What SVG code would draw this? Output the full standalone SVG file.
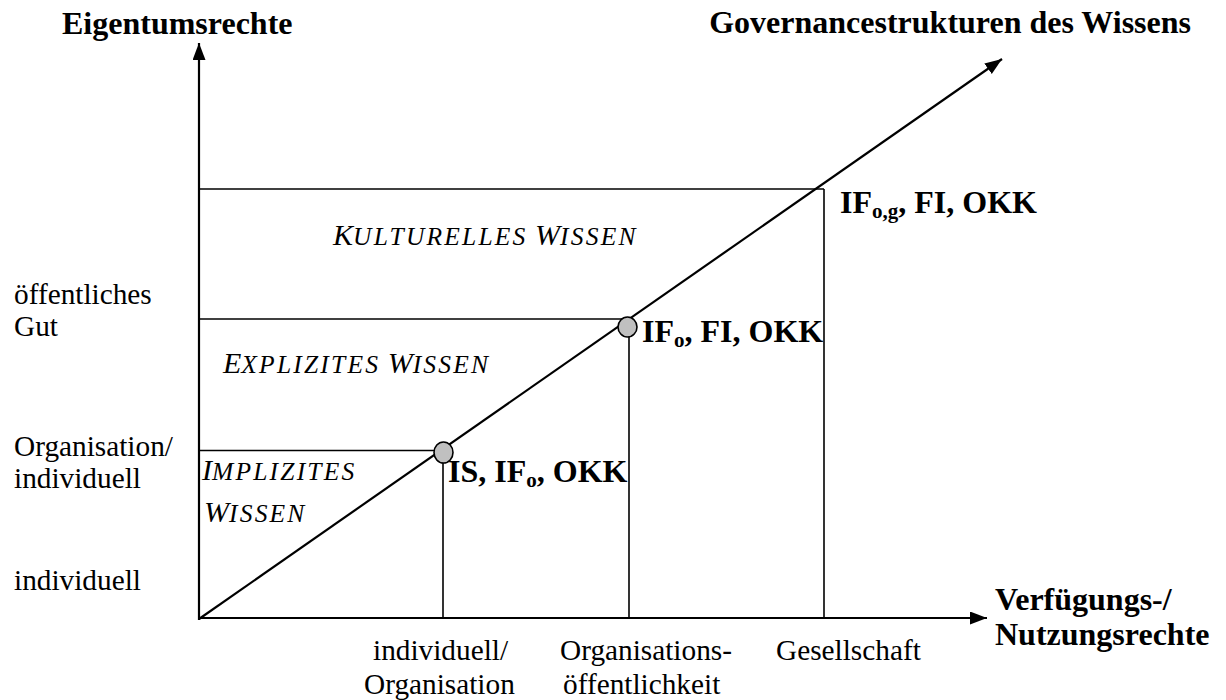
<svg xmlns="http://www.w3.org/2000/svg" width="1226" height="700" viewBox="0 0 1226 700">
<style>
.reg{font-family:"Liberation Serif","Times New Roman",serif;font-size:29.3px;fill:#000}
.bold{font-family:"Liberation Serif","Times New Roman",serif;font-size:32px;font-weight:bold;fill:#000}
.ital{font-family:"Liberation Serif","Times New Roman",serif;font-size:30px;font-style:italic;fill:#000}
.sc{font-size:25.5px;letter-spacing:2.2px}
.sub{font-size:21px}
.axis{stroke:#000;stroke-width:2.2;fill:none}
.grid{stroke:#000;stroke-width:1.6;fill:none}
.dot{fill:#c0c0c0;stroke:#000;stroke-width:1.6}
</style>
<defs>
<marker id="arr" markerUnits="userSpaceOnUse" markerWidth="18" markerHeight="14" refX="17" refY="6.5" orient="auto">
<path d="M0,0 L17,6.5 L0,13 z" fill="#000"/>
</marker>
</defs>
<g id="connectors">
<line class="grid" x1="199" y1="189" x2="824" y2="189"/>
<line class="grid" x1="199" y1="319" x2="629" y2="319"/>
<line class="grid" x1="199" y1="450.5" x2="443" y2="450.5"/>
<line class="grid" x1="824" y1="189" x2="824" y2="618"/>
<line class="grid" x1="629" y1="319" x2="629" y2="618"/>
<line class="grid" x1="443" y1="450.5" x2="443" y2="618"/>
<line class="axis" x1="199" y1="620" x2="199" y2="43" marker-end="url(#arr)"/>
<line class="axis" x1="198" y1="618" x2="987" y2="618" marker-end="url(#arr)"/>
<line class="axis" x1="199" y1="619" x2="1002" y2="59" marker-end="url(#arr)"/>
</g>
<g id="dot-implizit"><ellipse class="dot" cx="443.5" cy="452.5" rx="9.5" ry="10.5"/></g>
<g id="dot-explizit"><ellipse class="dot" cx="627.5" cy="327" rx="9.5" ry="10"/></g>
<g id="axis-titles">
<text class="bold" x="62" y="34">Eigentumsrechte</text>
<text class="bold" x="1191" y="33" text-anchor="end">Governancestrukturen des Wissens</text>
<text class="bold" x="995" y="610">Verfügungs-/</text>
<text class="bold" x="995" y="645">Nutzungsrechte</text>
</g>
<g id="y-labels">
<text class="reg" x="14" y="304">öffentliches</text>
<text class="reg" x="14" y="336">Gut</text>
<text class="reg" x="14" y="456">Organisation/</text>
<text class="reg" x="14" y="488">individuell</text>
<text class="reg" x="14" y="590">individuell</text>
</g>
<g id="x-labels">
<text class="reg" x="373" y="660">individuell/</text>
<text class="reg" x="364" y="694">Organisation</text>
<text class="reg" x="560" y="660">Organisations-</text>
<text class="reg" x="563" y="694">öffentlichkeit</text>
<text class="reg" x="776" y="660">Gesellschaft</text>
</g>
<g id="kulturelles">
<text class="ital" x="333" y="245">K<tspan class="sc">ULTURELLES</tspan> W<tspan class="sc">ISSEN</tspan></text>
<text class="bold" x="840" y="213">IF<tspan class="sub" dy="5">o,g</tspan><tspan dy="-5">, FI, OKK</tspan></text>
</g>
<g id="explizites">
<text class="ital" x="223" y="373">E<tspan class="sc">XPLIZITES</tspan> W<tspan class="sc">ISSEN</tspan></text>
<text class="bold" x="642" y="342">IF<tspan class="sub" dy="5">o</tspan><tspan dy="-5">, FI, OKK</tspan></text>
</g>
<g id="implizites">
<text class="ital" x="202" y="480">I<tspan class="sc">MPLIZITES</tspan></text>
<text class="ital" x="204" y="522">W<tspan class="sc">ISSEN</tspan></text>
<text class="bold" x="448" y="482">IS, IF<tspan class="sub" dy="5">o</tspan><tspan dy="-5">, OKK</tspan></text>
</g>
</svg>
